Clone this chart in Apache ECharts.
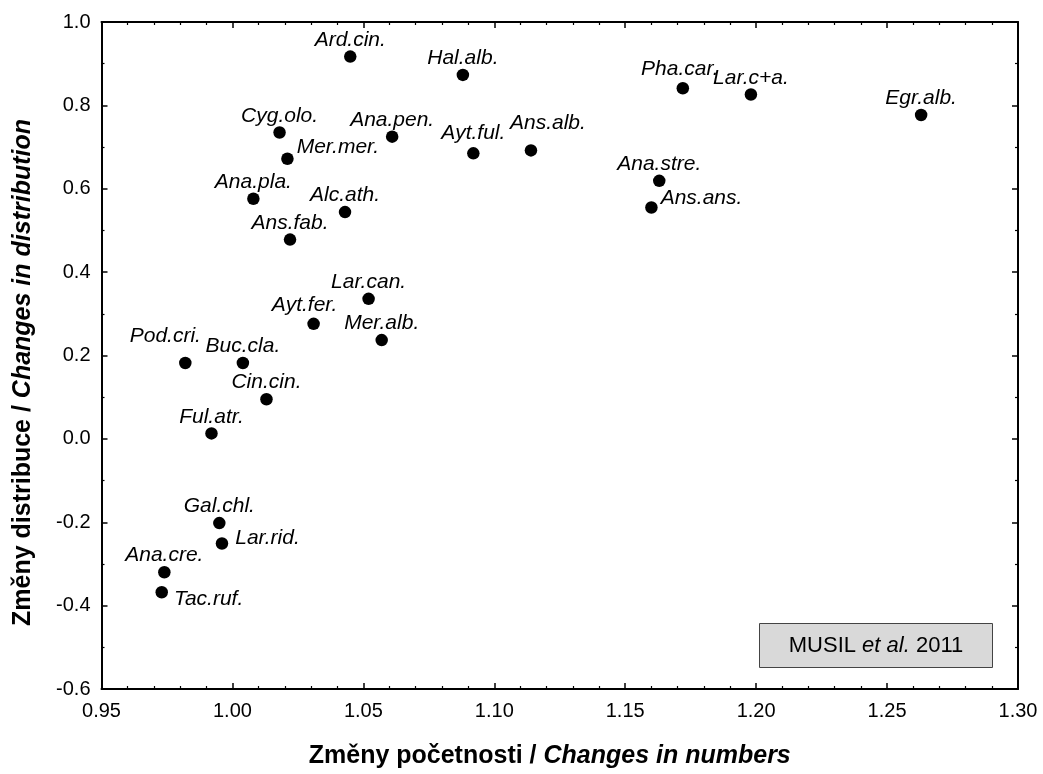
<!DOCTYPE html>
<html>
<head>
<meta charset="utf-8">
<script src="https://cdn.jsdelivr.net/npm/echarts@6/dist/echarts.min.js"></script>
<style>
html,body{margin:0;padding:0;background:#fff;}
#chart{width:1043px;height:774px;}
</style>
</head>
<body>
<div id="chart"></div>
<script>
// ---- data ----
const species = ['Ard.cin.','Hal.alb.','Pha.car.','Lar.c+a.','Egr.alb.','Cyg.olo.','Ana.pen.','Mer.mer.','Ayt.ful.','Ans.alb.',
  'Ana.stre.','Ana.pla.','Alc.ath.','Ans.ans.','Ans.fab.','Lar.can.','Ayt.fer.','Mer.alb.','Pod.cri.','Buc.cla.',
  'Cin.cin.','Ful.atr.','Gal.chl.','Lar.rid.','Ana.cre.','Tac.ruf.'];
const changesInNumbers = [1.045,1.088,1.172,1.198,1.263,1.018,1.061,1.021,1.092,1.114,
  1.163,1.008,1.043,1.160,1.022,1.052,1.031,1.057,0.982,1.004,
  1.013,0.992,0.995,0.996,0.974,0.973];
const changesInDistribution = [0.917,0.873,0.841,0.826,0.777,0.735,0.725,0.672,0.685,0.692,
  0.619,0.576,0.544,0.555,0.478,0.336,0.276,0.237,0.182,0.182,
  0.095,0.013,-0.202,-0.251,-0.320,-0.368];
const xTickLabels = ['0.95','1.00','1.05','1.10','1.15','1.20','1.25','1.30'];
const yTickLabels = ['-0.6','-0.4','-0.2','0.0','0.2','0.4','0.6','0.8','1.0'];

// ---- label placement (style only) ----
const labelSide = {'Mer.mer.':'right','Ans.ans.':'right','Lar.rid.':'right','Tac.ruf.':'right'};
const labelShift = {
  'Mer.mer.':[0,-12],'Ans.ans.':[0,-9],'Lar.rid.':[4,-5],'Tac.ruf.':[3,7],
  'Ans.alb.':[17,-10],'Ayt.fer.':[-9,-2],'Pod.cri.':[-20,-10],'Ayt.ful.':[0,-3],'Pha.car.':[-3,-2]
};

const FONT = '"Liberation Sans", Arial, Helvetica, sans-serif';

const points = species.map((name, i) => {
  const side = labelSide[name] || 'top';
  return {
    name: name,
    value: [changesInNumbers[i], changesInDistribution[i]],
    label: {
      position: side,
      distance: side === 'top' ? 0 : 3,
      offset: labelShift[name] || [0, 0]
    }
  };
});

const xMin = parseFloat(xTickLabels[0]), xMax = parseFloat(xTickLabels[xTickLabels.length-1]);
const yMin = parseFloat(yTickLabels[0]), yMax = parseFloat(yTickLabels[yTickLabels.length-1]);

const axisCommon = {
  axisLine: {show: true, onZero: false, lineStyle: {color: '#000', width: 2}},
  axisTick: {show: true, inside: true, length: 6, lineStyle: {color: '#000', width: 1.5}},
  minorTick: {show: true, length: 3, lineStyle: {color: '#000', width: 1.2}},
  splitLine: {show: false},
  minorSplitLine: {show: false}
};

const titleRich = {
  a: {fontSize: 25, fontWeight: 'bold', fontFamily: FONT, color: '#000'},
  b: {fontSize: 25, fontWeight: 'bold', fontStyle: 'italic', fontFamily: FONT, color: '#000'}
};

const chart = echarts.init(document.getElementById('chart'));
chart.setOption({
  backgroundColor: '#fff',
  animation: false,
  grid: {left: 101.5, right: 25, top: 22, bottom: 84},
  xAxis: [
    Object.assign({}, axisCommon, {
      type: 'value', position: 'bottom', min: xMin, max: xMax, interval: 0.05,
      minorTick: Object.assign({}, axisCommon.minorTick, {splitNumber: 5}),
      axisLabel: {color: '#000', fontSize: 20, fontFamily: FONT, margin: 12,
        formatter: v => v.toFixed(2)},
      name: '{a|Změny početnosti / }{b|Changes in numbers}',
      nameLocation: 'middle', nameGap: 55,
      nameTextStyle: {rich: titleRich, padding: [0, 20, 0, 0]}
    }),
    Object.assign({}, axisCommon, {
      type: 'value', position: 'top', min: xMin, max: xMax, interval: 0.05,
      minorTick: Object.assign({}, axisCommon.minorTick, {splitNumber: 5}),
      axisLabel: {show: false}
    })
  ],
  yAxis: [
    Object.assign({}, axisCommon, {
      type: 'value', position: 'left', min: yMin, max: yMax, interval: 0.2,
      minorTick: Object.assign({}, axisCommon.minorTick, {splitNumber: 2}),
      axisLabel: {color: '#000', fontSize: 20, fontFamily: FONT, margin: 11,
        formatter: v => v.toFixed(1)},
      name: '{a|Změny distribuce / }{b|Changes in distribution}',
      nameLocation: 'middle', nameGap: 66,
      nameTextStyle: {rich: titleRich, padding: [0, 34, 0, 0]}
    }),
    Object.assign({}, axisCommon, {
      type: 'value', position: 'right', min: yMin, max: yMax, interval: 0.2,
      minorTick: Object.assign({}, axisCommon.minorTick, {splitNumber: 2}),
      axisLabel: {show: false}
    })
  ],
  series: [{
    type: 'scatter',
    xAxisIndex: 0, yAxisIndex: 0,
    symbol: 'circle',
    symbolSize: 12.5,
    itemStyle: {color: '#000', opacity: 1},
    label: {
      show: true,
      formatter: p => p.name,
      color: '#000',
      fontSize: 21,
      fontStyle: 'italic',
      fontFamily: FONT
    },
    data: points
  }],
  graphic: [{
    type: 'group',
    left: 759, top: 623,
    children: [
      {type: 'rect', shape: {x: 0, y: 0, width: 233, height: 44},
        style: {fill: '#d9d9d9', stroke: '#444', lineWidth: 1}},
      {type: 'text', x: 116.5, y: 22,
        style: {
          text: '{a|MUSIL }{b|et al.}{a| 2011}',
          align: 'center', verticalAlign: 'middle',
          rich: {
            a: {fontSize: 22, fontFamily: FONT, fill: '#000'},
            b: {fontSize: 22, fontStyle: 'italic', fontFamily: FONT, fill: '#000'}
          }
        }}
    ]
  }]
});
</script>
</body>
</html>
